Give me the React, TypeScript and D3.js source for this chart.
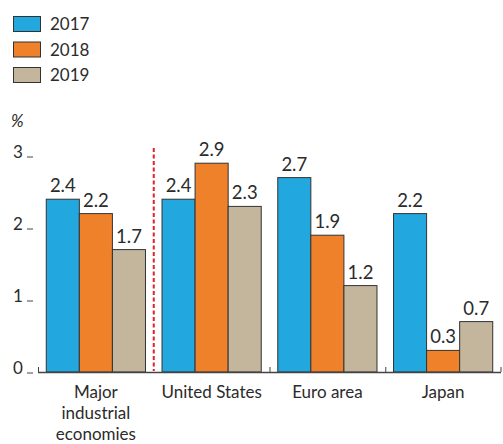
import * as d3 from 'd3';
import { useEffect, useRef } from 'react';

const categories = ['Major industrial economies', 'United States', 'Euro area', 'Japan'];
const categoryLines = [['Major', 'industrial', 'economies'], ['United States'], ['Euro area'], ['Japan']];
const years = ['2017', '2018', '2019'];
const values2017 = [2.4, 2.4, 2.7, 2.2];
const values2018 = [2.2, 2.9, 1.9, 0.3];
const values2019 = [1.7, 2.3, 1.2, 0.7];
const yTicks = [0, 1, 2, 3];
const colors = ['#22a7df', '#f0812b', '#c4b59d'];

export default function App() {
  const ref = useRef<SVGSVGElement | null>(null);

  useEffect(() => {
    const svg = d3.select(ref.current);
    const width = 503;
    const height = 444;
    svg.selectAll('*').remove();
    svg.attr('width', width).attr('height', height).style('display', 'block');

    const font = 'Lato, "Open Sans", sans-serif';
    const textColor = '#2b2b2b';
    const series = [values2017, values2018, values2019];

    const x = d3.scaleBand<string>().domain(categories).range([38, 501]).padding(0);
    const x1 = d3.scaleBand<string>().domain(years).range([0, x.bandwidth()]).paddingInner(0).paddingOuter(0.25);
    const y = d3.scaleLinear().domain([0, 3]).range([372, 156]);

    // legend
    const legend = svg.append('g');
    years.forEach((yr, i) => {
      legend.append('rect')
        .attr('x', 13.5).attr('y', 16.5 + i * 25.5)
        .attr('width', 27).attr('height', 15)
        .attr('fill', colors[i]).attr('stroke', '#333').attr('stroke-width', 1);
      legend.append('text')
        .attr('x', 50).attr('y', 30 + i * 25.5)
        .attr('font-family', font).attr('font-size', 17).attr('fill', textColor)
        .text(yr);
    });

    svg.append('text')
      .attr('x', 11).attr('y', 127)
      .attr('font-family', font).attr('font-size', 17).attr('font-style', 'italic').attr('fill', textColor)
      .text('%');

    // y ticks
    const yg = svg.append('g');
    yTicks.forEach(t => {
      yg.append('text')
        .attr('x', 13).attr('y', y(t) + 2)
        .attr('font-family', font).attr('font-size', 17).attr('fill', textColor)
        .text(t);
      yg.append('line')
        .attr('x1', 27).attr('x2', 33).attr('y1', y(t) + 1).attr('y2', y(t) + 1)
        .attr('stroke', '#444').attr('stroke-width', 1);
    });

    // bars
    categories.forEach((c, ci) => {
      const g = svg.append('g').attr('transform', `translate(${x(c)},0)`);
      years.forEach((yr, si) => {
        const v = series[si][ci];
        g.append('rect')
          .attr('x', x1(yr)!).attr('y', y(v))
          .attr('width', x1.bandwidth()).attr('height', y(0) - y(v))
          .attr('fill', colors[si]).attr('stroke', '#333').attr('stroke-width', 1);
        g.append('text')
          .attr('x', x1(yr)! + x1.bandwidth() / 2).attr('y', y(v) - 7)
          .attr('text-anchor', 'middle')
          .attr('font-family', font).attr('font-size', 18.5).attr('fill', textColor)
          .text(v.toFixed(1));
      });
      categoryLines[ci].forEach((line, li) => {
        g.append('text')
          .attr('x', x.bandwidth() / 2).attr('y', 398 + li * 21)
          .attr('text-anchor', 'middle')
          .attr('font-family', font).attr('font-size', 17).attr('fill', textColor)
          .text(line);
      });
    });

    // axis
    svg.append('line')
      .attr('x1', 38).attr('x2', 501).attr('y1', y(0) + 0.5).attr('y2', y(0) + 0.5)
      .attr('stroke', '#444').attr('stroke-width', 1.5);
    [categories[0], categories[2], categories[3]].forEach(c => {
      svg.append('line')
        .attr('x1', x(c)! + 0.5).attr('x2', x(c)! + 0.5).attr('y1', y(0)).attr('y2', y(0) - 5)
        .attr('stroke', '#444').attr('stroke-width', 1);
    });
    svg.append('line')
      .attr('x1', 501).attr('x2', 501).attr('y1', y(0)).attr('y2', y(0) - 5)
      .attr('stroke', '#444').attr('stroke-width', 1);

    // dashed separator
    svg.append('line')
      .attr('x1', x(categories[1])!).attr('x2', x(categories[1])!)
      .attr('y1', 148).attr('y2', y(0) - 1)
      .attr('stroke', '#e3202b').attr('stroke-width', 2).attr('stroke-dasharray', '4,2.5');
  }, []);

  return <svg ref={ref} style={{ position: 'absolute', left: 0, top: 0 }}></svg>;
}
